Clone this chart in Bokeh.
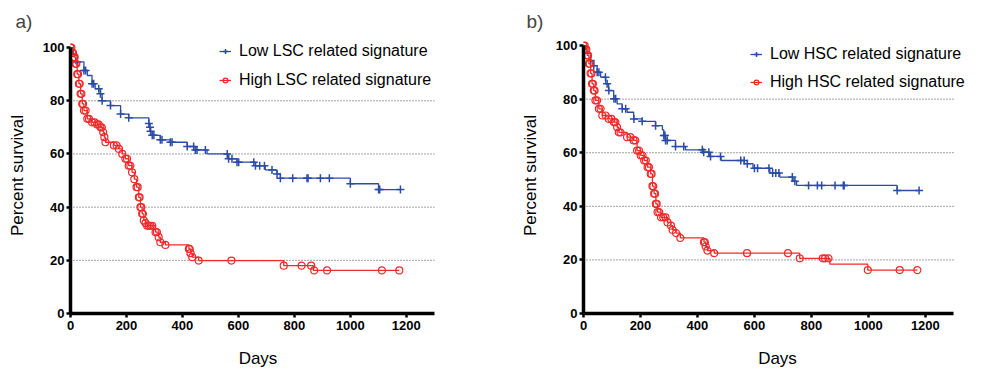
import numpy as np
from bokeh.plotting import figure
from bokeh.models import Range1d, FixedTicker, Legend, LegendItem
from bokeh.layouts import row
from bokeh.embed import file_html
from bokeh.resources import INLINE

FONT = "Liberation Sans"
BLUE = "#2a4ca6"
RED = "#f02a2a"

x_ticks = [0, 200, 400, 600, 800, 1000, 1200]
y_ticks = [0, 20, 40, 60, 80, 100]
grid_ticks = [20, 40, 60, 80]
x_axis_bounds = (0, 1300)
y_axis_bounds = (0, 100)

# ---------------- panel a) ----------------
a_title = "a)"
a_low_label = "Low LSC related signature"
a_high_label = "High LSC related signature"

a_low_t = [0, 10, 24, 48, 60, 77, 88, 107, 113, 143, 179, 208, 280, 283, 286, 292, 321, 357, 417, 446, 488, 565, 595, 661, 696, 738, 750, 1000, 1101, 1179]
a_low_s = [100, 97.3, 94.6, 91.4, 89.5, 86.4, 84.5, 82.6, 80.0, 78.2, 75.0, 73.6, 71.5, 70.0, 68.5, 67.0, 65.3, 64.4, 62.8, 61.5, 60.0, 58.2, 56.9, 55.6, 54.0, 52.5, 50.9, 48.8, 46.6, 46.6]
a_low_marks = [24, 48, 54, 77, 83, 101, 107, 113, 143, 179, 208, 280, 284, 286, 292, 298, 321, 327, 357, 363, 417, 440, 446, 452, 482, 560, 565, 577, 595, 601, 655, 661, 676, 693, 720, 738, 750, 794, 845, 849, 893, 925, 1000, 1101, 1105, 1179]

a_high_t = [0, 6, 12, 18, 24, 30, 36, 42, 48, 60, 77, 95, 107, 117, 121, 125, 155, 173, 185, 196, 208, 220, 228, 236, 244, 250, 256, 262, 268, 274, 304, 315, 321, 339, 423, 429, 435, 458, 762, 868, 1175]
a_high_s = [100, 98.0, 96.4, 93.9, 90.0, 86.4, 82.6, 78.8, 76.3, 73.2, 71.9, 71.1, 70.0, 68.2, 66.3, 64.4, 63.2, 61.9, 60.0, 58.2, 55.6, 53.1, 50.5, 47.5, 43.7, 40.0, 37.5, 35.0, 34.0, 33.0, 30.6, 28.7, 26.8, 25.8, 24.3, 22.7, 21.2, 19.9, 18.0, 16.2, 16.2]
a_high_marks = [0, 3, 6, 9, 12, 15, 18, 21, 24, 27, 30, 33, 36, 39, 42, 45, 48, 54, 60, 66, 77, 86, 95, 101, 107, 112, 117, 121, 125, 155, 165, 173, 185, 196, 202, 208, 214, 220, 228, 236, 240, 244, 247, 250, 253, 256, 259, 262, 268, 274, 280, 286, 292, 304, 309, 315, 321, 339, 423, 426, 429, 435, 458, 575, 762, 826, 860, 871, 917, 1113, 1175]

# ---------------- panel b) ----------------
b_title = "b)"
b_low_label = "Low HSC related signature"
b_high_label = "High HSC related signature"

b_low_t = [0, 12, 25, 36, 48, 60, 78, 88, 106, 118, 136, 153, 176, 206, 253, 277, 282, 288, 323, 358, 418, 441, 483, 565, 595, 654, 689, 736, 748, 1101, 1178]
b_low_s = [100, 97.0, 94.4, 92.5, 90.0, 88.2, 85.7, 83.2, 80.1, 78.2, 76.4, 75.1, 72.6, 71.7, 70.1, 68.5, 66.4, 64.6, 62.3, 61.1, 60.2, 58.6, 57.1, 55.9, 54.2, 52.4, 50.9, 49.4, 47.8, 45.9, 45.9]
b_low_marks = [25, 36, 48, 54, 77, 83, 89, 107, 113, 136, 148, 177, 206, 253, 282, 286, 288, 294, 323, 352, 417, 422, 440, 446, 481, 552, 564, 575, 600, 611, 651, 664, 675, 686, 733, 742, 790, 821, 836, 883, 912, 915, 1101, 1178]

b_high_t = [0, 7, 13, 19, 25, 30, 36, 42, 54, 66, 89, 107, 118, 124, 153, 176, 188, 201, 213, 225, 236, 242, 248, 254, 260, 272, 295, 307, 313, 325, 340, 423, 429, 435, 459, 759, 865, 998, 1172]
b_high_s = [100, 98.5, 96.3, 93.2, 89.6, 85.7, 83.2, 79.5, 76.4, 73.9, 72.6, 71.4, 69.5, 67.6, 65.8, 64.6, 60.8, 59.0, 57.1, 54.6, 52.1, 47.5, 44.7, 40.9, 37.8, 35.9, 34.0, 32.8, 31.2, 30.0, 28.2, 26.6, 25.0, 23.5, 22.5, 20.6, 18.4, 16.2, 16.2]
b_high_marks = [0, 4, 7, 10, 13, 16, 19, 22, 25, 28, 30, 33, 36, 39, 42, 48, 54, 60, 66, 78, 89, 98, 107, 112, 118, 124, 130, 153, 165, 176, 182, 188, 195, 201, 207, 213, 219, 225, 230, 236, 239, 242, 245, 248, 251, 254, 257, 260, 266, 272, 280, 288, 295, 307, 313, 325, 340, 423, 426, 429, 435, 459, 574, 718, 759, 840, 848, 860, 998, 1110, 1172]


def level_at(t, s, marks):
    t = np.asarray(t, dtype=float)
    s = np.asarray(s, dtype=float)
    idx = np.searchsorted(t, np.asarray(marks, dtype=float), side="right") - 1
    return s[np.clip(idx, 0, len(s) - 1)]


def make_panel(title, low, high, width, frame_w, x_end, y_end, legend_loc, legend_spacing, title_offset):
    top, left, bottom, frame_h = 37, 70, 58, 276
    p = figure(width=width, height=top + frame_h + bottom,
               x_range=Range1d(0, x_end), y_range=Range1d(0, y_end),
               output_backend="svg", toolbar_location=None,
               min_border_left=left, min_border_top=top,
               min_border_bottom=bottom, min_border_right=width - left - frame_w)
    p.title.text = title
    p.title.text_font = FONT
    p.title.text_font_size = "19px"
    p.title.text_font_style = "normal"
    p.title.align = "left"
    p.title.offset = title_offset
    p.title.standoff = 11
    p.outline_line_color = None
    p.background_fill_color = "white"
    p.border_fill_color = "white"

    p.xgrid.visible = False
    p.ygrid.visible = False
    p.segment(x0=[x_axis_bounds[0]] * len(grid_ticks), x1=[x_axis_bounds[1]] * len(grid_ticks),
              y0=grid_ticks, y1=grid_ticks, line_color="#444444", line_dash="1 2", line_width=1)

    for ax in (p.xaxis[0], p.yaxis[0]):
        ax.axis_line_width = 3.5
        ax.axis_line_color = "black"
        ax.major_tick_line_width = 2.5
        ax.major_tick_line_color = "black"
        ax.major_tick_in = 0
        ax.major_tick_out = 4
        ax.minor_tick_line_color = None
        ax.major_label_text_font = FONT
        ax.major_label_text_font_size = "13px"
        ax.major_label_text_font_style = "bold"
        ax.major_label_text_color = "black"
        ax.axis_label_text_font = FONT
        ax.axis_label_text_font_size = "17px"
        ax.axis_label_text_font_style = "normal"
        ax.axis_label_text_color = "black"
    p.xaxis[0].ticker = FixedTicker(ticks=x_ticks)
    p.yaxis[0].ticker = FixedTicker(ticks=y_ticks)
    p.xaxis[0].bounds = x_axis_bounds
    p.yaxis[0].bounds = y_axis_bounds
    p.xaxis[0].axis_label = "Days"
    p.yaxis[0].axis_label = "Percent survival"
    p.xaxis[0].major_label_standoff = 3
    p.yaxis[0].major_label_standoff = 2
    p.xaxis[0].axis_label_standoff = 16
    p.yaxis[0].axis_label_standoff = 13

    items = []
    for (t, s, marks, label), color, marker, size in (
            (low, BLUE, "cross", 8), (high, RED, "circle", 7)):
        lr = p.step(t, s, mode="after", line_color=color, line_width=1.3)
        ys = level_at(t, s, marks)
        if marker == "cross":
            mr = p.scatter(marks, ys, marker="cross", size=size, line_color=color, line_width=1.5)
        else:
            mr = p.scatter(marks, ys, marker="circle", size=size, line_color=color,
                           fill_color=None, line_width=1.2)
        items.append(LegendItem(label=label, renderers=[lr, mr]))

    legend = Legend(items=items, location=legend_loc, orientation="vertical",
                    border_line_color=None, background_fill_alpha=0,
                    padding=0, margin=0, spacing=legend_spacing,
                    glyph_width=12, glyph_height=20, label_height=20,
                    label_standoff=8, label_text_font=FONT,
                    label_text_font_size="16px", label_text_color="black")
    p.add_layout(legend, "center")
    return p


pa = make_panel(a_title, (a_low_t, a_low_s, a_low_marks, a_low_label),
                (a_high_t, a_high_s, a_high_marks, a_high_label),
                513, 375, 1340, 103.8, (149, 223), 9, -55)
pb = make_panel(b_title, (b_low_t, b_low_s, b_low_marks, b_low_label),
                (b_high_t, b_high_s, b_high_marks, b_high_label),
                463, 388, 1362, 103.0, (167, 221), 8, -57)

layout = row(pa, pb)
open("out.html", "w").write(file_html(layout, INLINE))
